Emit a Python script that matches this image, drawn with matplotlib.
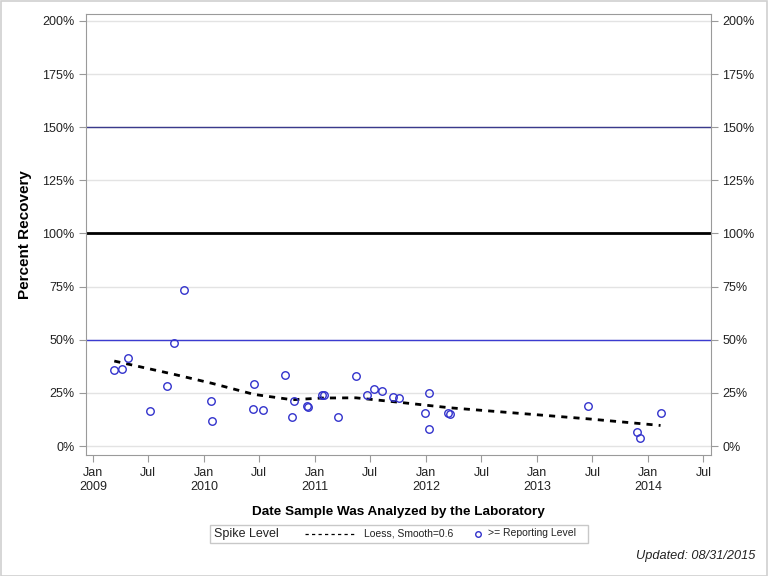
import matplotlib
matplotlib.use("Agg")
import matplotlib.pyplot as plt
import matplotlib.dates as mdates
from matplotlib.lines import Line2D
from matplotlib.patches import Rectangle
import pandas as pd

# spike recovery samples (>= reporting level)
sample_dates = [
    "2009-03-11", "2009-04-06", "2009-04-26", "2009-07-07", "2009-09-01",
    "2009-09-22", "2009-10-26", "2010-01-24", "2010-01-27", "2010-06-11",
    "2010-06-14", "2010-07-14", "2010-09-22", "2010-10-17", "2010-10-23",
    "2010-12-05", "2010-12-08", "2011-01-23", "2011-01-31", "2011-03-17",
    "2011-05-15", "2011-06-20", "2011-07-13", "2011-08-09", "2011-09-14",
    "2011-10-04", "2011-12-28", "2012-01-10", "2012-01-10", "2012-03-13",
    "2012-03-20", "2013-06-17", "2013-11-26", "2013-12-06", "2014-02-10",
]
recovery = [
    35.6, 36.1, 41.3, 16.3, 28.1,
    48.4, 73.4, 21.0, 11.6, 17.3,
    29.0, 16.8, 33.3, 13.5, 21.0,
    18.7, 18.2, 23.9, 23.9, 13.5,
    32.8, 23.9, 26.7, 25.8, 22.9,
    22.5, 15.4, 24.8, 7.9, 15.4,
    14.9, 18.7, 6.4, 3.6, 15.4,
]

# loess fit (smooth=0.6)
loess_dates = [
    "2009-03-11", "2009-09-22", "2010-01-27", "2010-06-14", "2010-10-17",
    "2011-01-23", "2011-05-15", "2011-10-04", "2012-03-20", "2013-06-17",
    "2014-02-10",
]
loess_vals = [40.0, 33.8, 29.5, 24.3, 21.8, 22.6, 22.7, 20.6, 18.0, 12.8, 9.7]

y_ticks = [0, 25, 50, 75, 100, 125, 150, 175, 200]

plt.rcParams["font.family"] = ["Liberation Sans", "DejaVu Sans"]

fig = plt.figure(figsize=(7.68, 5.76), dpi=100)
ax = fig.add_axes([85.7 / 768, 1 - 455 / 576, (711 - 85.7) / 768, (455 - 13.7) / 576])

x = pd.to_datetime(sample_dates)
lx = pd.to_datetime(loess_dates)

# grid and reference lines
for t in y_ticks:
    ax.axhline(t, color="#e3e3e3", linewidth=1, zorder=0)
ax.axhline(50, color="#3b3bd0", linewidth=1.0, zorder=1)
ax.axhline(100, color="black", linewidth=2.0, zorder=1)
ax.axhline(150, color="#3a3a8c", linewidth=1.0, zorder=1)

ax.plot(lx, loess_vals, color="black", linestyle=(0, (2.2, 2.2)), linewidth=2.0, zorder=3)
ax.plot(x, recovery, linestyle="none", marker="o", markersize=5.4,
        markerfacecolor="none", markeredgecolor="#3232cc", markeredgewidth=1.0, zorder=4)

ax.set_xlim(pd.Timestamp("2008-12-07"), pd.Timestamp("2014-07-26"))
ax.set_ylim(-4.2, 203.4)
ax.set_yticks(y_ticks)
ax.set_yticklabels([f"{t}%" for t in y_ticks])

ax.xaxis.set_major_locator(mdates.MonthLocator(bymonth=[1, 7]))
ax.xaxis.set_major_formatter(
    plt.FuncFormatter(lambda v, p: (lambda d: f"Jan\n{d.year}" if d.month == 1 else "Jul")(mdates.num2date(v)))
)

for s in ax.spines.values():
    s.set_color("#9a9a9a")
ax.tick_params(axis="y", direction="out", length=5, color="#9a9a9a", labelsize=9,
               labelcolor="#222222", right=True, labelright=True, pad=3)
ax.tick_params(axis="x", direction="out", length=5, color="#9a9a9a", labelsize=9,
               labelcolor="#222222", pad=4)

ax.set_ylabel("Percent Recovery", fontsize=11, fontweight="bold")
ax.yaxis.set_label_coords(-53.5 / 625.3, 0.5)
ax.set_xlabel("Date Sample Was Analyzed by the Laboratory", fontsize=9.7,
              fontweight="bold", labelpad=9)


# legend box, positioned in figure pixels
def fx(px):
    return px / 768


def fy(py):
    return 1 - py / 576


fig.patches.append(Rectangle((fx(210), fy(543)), fx(378), 18.5 / 576, transform=fig.transFigure,
                             facecolor="white", edgecolor="#c8c8c8", linewidth=1))
fig.text(fx(214), fy(533.5), "Spike Level", fontsize=9, va="center", ha="left", color="#222222")
fig.lines.append(Line2D([fx(305), fx(354)], [fy(533.5), fy(533.5)], transform=fig.transFigure,
                        color="black", linestyle=(0, (2.6, 2.6)), linewidth=0.9))
fig.text(fx(364), fy(533.5), "Loess, Smooth=0.6", fontsize=7.5, va="center", ha="left", color="#222222")
fig.lines.append(Line2D([fx(477.5)], [fy(533.5)], transform=fig.transFigure, marker="o", markersize=4,
                        markerfacecolor="none", markeredgecolor="#3232cc", markeredgewidth=1.0))
fig.text(fx(488), fy(533.5), ">= Reporting Level", fontsize=7.5, va="center", ha="left", color="#222222")

fig.text(fx(755), fy(556), "Updated: 08/31/2015", fontsize=9.2, style="italic",
         ha="right", va="center", color="#222222")

fig.patches.append(Rectangle((0.5 / 768, 0.5 / 576), 1 - 1.5 / 768, 1 - 1.5 / 576, transform=fig.transFigure,
                             facecolor="none", edgecolor="#d0d0d0", linewidth=1.2))

fig.savefig("out.png", dpi=100)
